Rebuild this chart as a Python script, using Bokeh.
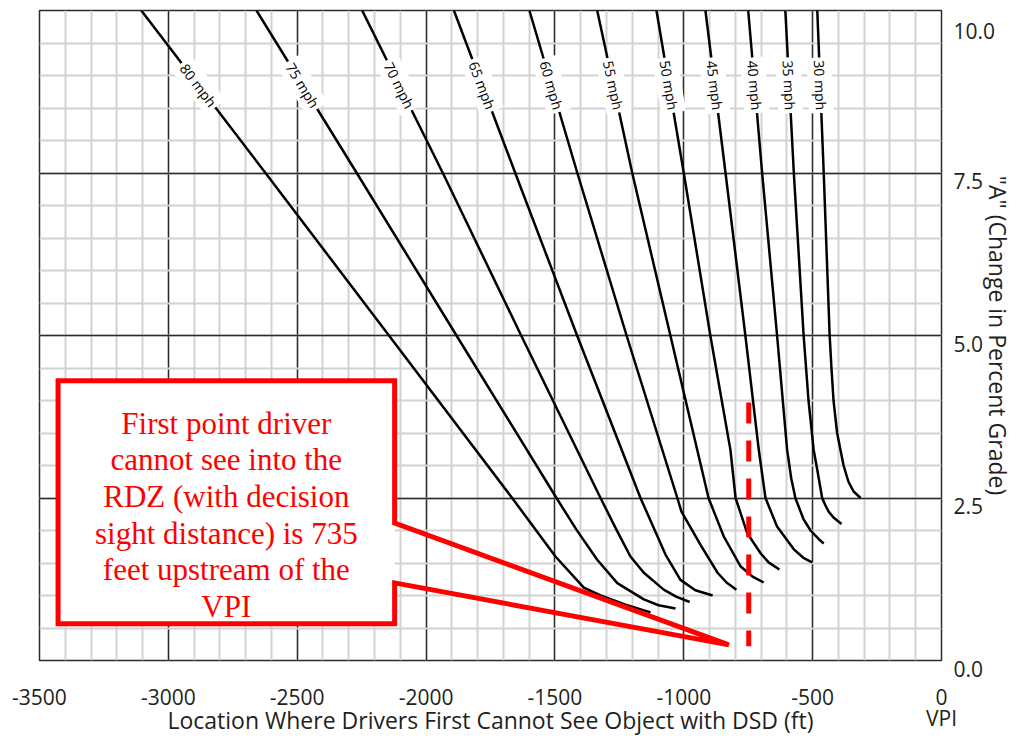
import math
import numpy as np
from bokeh.plotting import figure
from bokeh.models import (Range1d, FixedTicker, PrintfTickFormatter, Label,
                          ColumnDataSource, LinearAxis)
from bokeh.core.properties import value
from bokeh.embed import file_html
from bokeh.resources import INLINE

# ---------------- data ----------------
speed_labels = ["80 mph", "75 mph", "70 mph", "65 mph", "60 mph", "55 mph",
                "50 mph", "45 mph", "40 mph", "35 mph", "30 mph"]

x_80 = [-3105, -2623, -2144, -1666, -1498, -1388, -1323, -1226, -1129]
a_80 = [10.0, 7.5, 5.0, 2.5, 1.60, 1.12, 1.00, 0.86, 0.74]
x_75 = [-2658, -2269, -1882, -1494, -1416, -1336, -1258, -1155, -1098, -1032]
a_75 = [10.0, 7.5, 5.0, 2.5, 2.01, 1.55, 1.19, 0.94, 0.85, 0.80]
x_70 = [-2248, -1935, -1631, -1323, -1261, -1207, -1155, -1078, -1028, -977]
a_70 = [10.0, 7.5, 5.0, 2.5, 2.01, 1.60, 1.35, 1.09, 0.98, 0.90]
x_65 = [-1892, -1654, -1414, -1168, -1122, -1071, -1013, -955, -888]
a_65 = [10.0, 7.5, 5.0, 2.5, 2.09, 1.63, 1.24, 1.08, 1.00]
x_60 = [-1599, -1413, -1222, -1025, -1009, -935, -869, -834, -796]
a_60 = [10.0, 7.5, 5.0, 2.5, 2.29, 1.78, 1.35, 1.20, 1.09]
x_55 = [-1336, -1200, -1052, -904, -845, -780, -733, -690]
a_55 = [10.0, 7.5, 5.0, 2.5, 1.91, 1.45, 1.29, 1.20]
x_50 = [-1106, -1000, -897, -819, -799, -754, -702, -671, -629]
a_50 = [10.0, 7.5, 5.0, 3.24, 2.5, 1.96, 1.65, 1.51, 1.40]
x_45 = [-916, -838, -761, -709, -683, -638, -573, -536, -502]
a_45 = [10.0, 7.5, 5.0, 3.24, 2.5, 2.06, 1.71, 1.58, 1.51]
x_40 = [-750, -696, -638, -599, -583, -567, -535, -508, -477, -457]
a_40 = [10.0, 7.5, 5.0, 3.24, 2.8, 2.5, 2.17, 2.0, 1.87, 1.80]
x_35 = [-606, -573, -535, -516, -496, -485, -463, -452, -438, -419, -388]
a_35 = [10.0, 7.5, 5.0, 4.0, 3.24, 3.0, 2.5, 2.4, 2.29, 2.2, 2.10]
x_30 = [-482, -457, -434, -427, -419, -405, -380, -361, -341, -314]
a_30 = [10.0, 7.5, 5.0, 4.5, 4.0, 3.5, 3.0, 2.75, 2.6, 2.50]

x_ticks = [-3500, -3000, -2500, -2000, -1500, -1000, -500, 0]
y_ticks = [0.0, 2.5, 5.0, 7.5, 10.0]
vpi_tick = [0]

rdz_location = -748          # dashed red line (ft)
rdz_a_span = [3.97, 0.22]    # its vertical extent (A)

note_lines = ["First point driver", "cannot see into the", "RDZ (with decision",
              "sight distance) is 735", "feet upstream of the", "VPI"]

x_title = "Location Where Drivers First Cannot See Object with DSD (ft)"
y_title = '"A" (Change in Percent Grade)'

# ---------------- layout ----------------
W, H = 1017, 738
FL, FT, FR, FB = 39, 10, 76, 77
frame_w, frame_h = W - FL - FR, H - FT - FB
sx = frame_w / 3500.0
sy = frame_h / 10.0

FONT = "Open Sans"
INK = "#231f20"

p = figure(width=W, height=H, x_range=Range1d(-3500, 0), y_range=Range1d(0, 10),
           y_axis_location="right", output_backend="svg", toolbar_location=None,
           min_border_left=FL, min_border_top=FT, min_border_right=FR, min_border_bottom=FB)
p.background_fill_color = "white"
p.border_fill_color = "white"
p.outline_line_color = "#2b2b2b"
p.outline_line_width = 1.5

xt = FixedTicker(ticks=x_ticks, minor_ticks=list(range(-3500, 1, 100)))
yt = FixedTicker(ticks=y_ticks, minor_ticks=[i * 0.5 for i in range(21)])
xaxis = p.below[0]
yaxis = p.right[0]
xaxis.ticker = xt
yaxis.ticker = yt
p.xgrid.ticker = xt
p.ygrid.ticker = yt
xaxis.formatter = PrintfTickFormatter(format="%d")
yaxis.formatter = PrintfTickFormatter(format="\n%.1f")

for g in (p.xgrid, p.ygrid):
    g.grid_line_color = "#2b2b2b"
    g.grid_line_width = 1.4
    g.minor_grid_line_color = "#d2d2d2"
    g.minor_grid_line_width = 2

vpi_axis = LinearAxis(ticker=FixedTicker(ticks=vpi_tick),
                      formatter=PrintfTickFormatter(format="VPI"))

for ax in (xaxis, yaxis, vpi_axis):
    ax.axis_line_color = None
    ax.major_tick_line_color = None
    ax.minor_tick_line_color = None
    ax.major_tick_out = 0
    ax.major_tick_in = 0
    ax.major_label_text_font = FONT
    ax.major_label_text_font_size = "21px"
    ax.major_label_text_color = INK
    ax.axis_label_text_font = FONT
    ax.axis_label_text_font_size = "23px"
    ax.axis_label_text_font_style = "normal"
    ax.axis_label_text_color = INK

xaxis.major_label_standoff = 24
vpi_axis.major_label_standoff = -4
vpi_axis.axis_label = x_title
vpi_axis.axis_label_standoff = -31
p.add_layout(vpi_axis, "below")

yaxis.axis_label = y_title
yaxis.major_label_standoff = 8
yaxis.axis_label_standoff = -16
yaxis.major_label_text_line_height = 0.6

# ---------------- curves ----------------
curves = list(zip(speed_labels,
                  [x_80, x_75, x_70, x_65, x_60, x_55, x_50, x_45, x_40, x_35, x_30],
                  [a_80, a_75, a_70, a_65, a_60, a_55, a_50, a_45, a_40, a_35, a_30]))

for name, xs, a_s in curves:
    p.line(xs, a_s, line_color="black", line_width=2.5, line_join="round")

label_a = 8.85
for name, xs, a_s in curves:
    xl = float(np.interp(label_a, a_s[::-1], xs[::-1]))
    ang = math.atan2((a_s[1] - a_s[0]) * sy, (xs[1] - xs[0]) * sx)
    p.add_layout(Label(x=xl, y=label_a, text=name, angle=ang,
                       text_align="center", text_baseline="middle",
                       text_font=FONT, text_font_size="14px", text_color="black",
                       background_fill_color="white", padding=3))

# ---------------- callout ----------------
bx0, bx1, by0, by1 = -3428, -2122, 0.565, 4.304
p.quad(left=[bx0], right=[bx1], bottom=[by0], top=[by1],
       fill_color="white", line_color=None)
px_ = [bx0, bx1, bx1, -825, bx1, bx1, bx0]
py_ = [by1, by1, 2.115, 0.24, 1.194, by0, by0]
p.patch(px_, py_, fill_color=None, line_color="#ff0000", line_width=5, line_join="miter")

p.line([rdz_location, rdz_location], rdz_a_span, line_color="#ff0000",
       line_width=5, line_dash="21 17")

step = 36.7 / sy
src = ColumnDataSource(dict(x=[(bx0 + bx1) / 2] * len(note_lines),
                            y=[3.651 - i * step for i in range(len(note_lines))],
                            t=note_lines))
p.text(x="x", y="y", text="t", source=src, text_align="center",
       text_baseline="alphabetic", text_font=value("Liberation Serif"),
       text_font_size="31px", text_color="#ff0000")

open("out.html", "w").write(file_html(p, INLINE))
